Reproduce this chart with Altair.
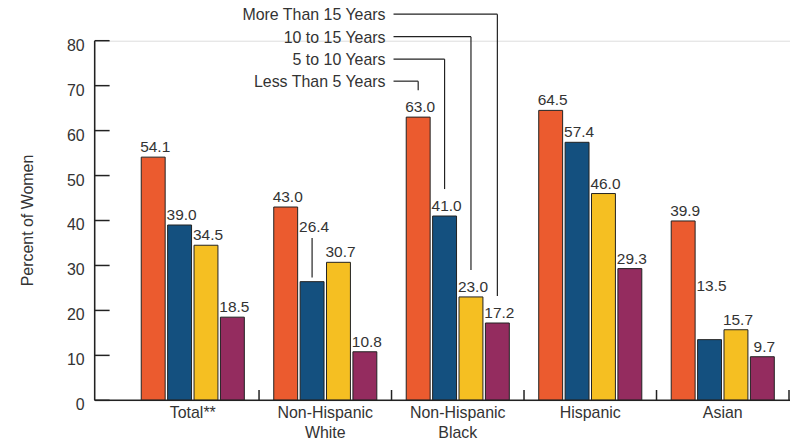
import altair as alt
import pandas as pd

categories = ["Total**", "Non-Hispanic|White", "Non-Hispanic|Black", "Hispanic", "Asian"]
series = ["Less Than 5 Years", "5 to 10 Years", "10 to 15 Years", "More Than 15 Years"]
less_than_5 = [54.1, 43.0, 63.0, 64.5, 39.9]
five_to_10 = [39.0, 26.4, 41.0, 57.4, 13.5]
ten_to_15 = [34.5, 30.7, 23.0, 46.0, 15.7]
more_than_15 = [18.5, 10.8, 17.2, 29.3, 9.7]
colors = ["#EB5B2F", "#14507F", "#F5BF22", "#942C5F"]
y_ticks = [0, 10, 20, 30, 40, 50, 60, 70, 80]
y_title = "Percent of Women"

# labels that sit higher than their bar: (category, series, label height in y units, leader line)
raised_labels = [("Non-Hispanic|White", "5 to 10 Years", 36.4, True),
                 ("Asian", "5 to 10 Years", 23.3, False)]
# legend rows drawn above the plot with leader lines to the Non-Hispanic Black bars
legend_category = "Non-Hispanic|Black"
legend_levels = [71, 75.9, 80.9, 85.9]

TXT = "#333333"
LINE = "#222222"
FS = 16
NUM_FS = 15.5

all_vals = [less_than_5, five_to_10, ten_to_15, more_than_15]
rows = []
for s, vals in zip(series, all_vals):
    for c, v in zip(categories, vals):
        ly = v
        lead = False
        for rc, rs, rly, rl in raised_labels:
            if rc == c and rs == s:
                ly = rly
                lead = rl
        rows.append({"category": c, "series": s, "value": v, "label_y": ly,
                     "lead": lead, "lead_lo": v + 0.9, "lead_hi": ly - 0.3})
df = pd.DataFrame(rows)

leg_rows = []
for s, lvl in zip(series, legend_levels):
    v = all_vals[series.index(s)][categories.index(legend_category)]
    leg_rows.append({"category": legend_category, "series": s, "level": lvl, "end": v + 6})
leg_df = pd.DataFrame(leg_rows)

cat_df = pd.DataFrame({"category": categories, "lo": [0] * len(categories),
                       "hi": [2.3] * len(categories)})
tick_df = pd.DataFrame({"tick": y_ticks})
base_df = pd.DataFrame({"z": [0], "top": [80], "mid": [40], "title": [y_title]})

x_scale = alt.Scale(domain=categories, range=[32, 697], paddingInner=0, paddingOuter=0)
x_axis = alt.Axis(domain=False, ticks=False, labelExpr="split(datum.label, '|')",
                  labelFontSize=FS, labelPadding=4, labelColor=TXT, labelLineHeight=20,
                  labelAngle=0, title=None)
y_scale = alt.Scale(domain=[0, 80], nice=False, zero=True)
xo = alt.XOffset("series:N", sort=series,
                 scale=alt.Scale(domain=series, paddingInner=0.094, paddingOuter=0.557))


def X(**kw):
    return alt.X("category:N", sort=categories, scale=x_scale, axis=x_axis, title=None, **kw)


def Yn(field):
    return alt.Y(field, scale=y_scale, axis=None)


bars = alt.Chart(df).mark_bar(stroke=LINE, strokeWidth=1).encode(
    x=X(),
    xOffset=xo,
    y=Yn("value:Q"),
    color=alt.Color("series:N", scale=alt.Scale(domain=series, range=colors), legend=None),
)

labels = alt.Chart(df).mark_text(dy=-5, dx=2, baseline="alphabetic", align="center",
                                 fontSize=NUM_FS, color=TXT).encode(
    x=X(), xOffset=xo,
    y=Yn("label_y:Q"),
    text=alt.Text("value:Q", format=".1f"),
)

leaders = alt.Chart(df).transform_filter("datum.lead").mark_rule(color=LINE, strokeWidth=1.2).encode(
    x=X(), xOffset=xo,
    y=Yn("lead_lo:Q"),
    y2="lead_hi:Q",
)

leg_text = alt.Chart(leg_df).mark_text(align="right", baseline="middle", fontSize=FS,
                                       dy=1, color=TXT).encode(
    x=alt.value(292),
    y=Yn("level:Q"),
    text="series:N",
)

leg_h = alt.Chart(leg_df).mark_rule(color=LINE, strokeWidth=1.2).encode(
    x=X(), xOffset=xo, x2=alt.value(300),
    y=Yn("level:Q"),
)

leg_v = alt.Chart(leg_df).mark_rule(color=LINE, strokeWidth=1.2).encode(
    x=X(), xOffset=xo,
    y=Yn("level:Q"),
    y2="end:Q",
)

x_line = alt.Chart(base_df).mark_rule(color=LINE, strokeWidth=1.5).encode(
    x=alt.value(0), x2=alt.value(698),
    y=Yn("z:Q"),
)

y_line = alt.Chart(base_df).mark_rule(color=LINE, strokeWidth=1.5).encode(
    x=alt.value(0),
    y=Yn("z:Q"), y2="top:Q",
)

y_title_mark = alt.Chart(base_df).mark_text(angle=270, align="center", baseline="middle",
                                            fontSize=FS, color=TXT).encode(
    x=alt.value(-67),
    y=Yn("mid:Q"),
    text="title:N",
)

seps = alt.Chart(cat_df).mark_rule(color=LINE, strokeWidth=1.5).encode(
    x=X(bandPosition=1),
    y=Yn("lo:Q"), y2="hi:Q",
)

yticks = alt.Chart(tick_df).mark_rule(color=LINE, strokeWidth=1.5).encode(
    x=alt.value(0), x2=alt.value(15),
    y=Yn("tick:Q"),
)

ytick_labels = alt.Chart(tick_df).mark_text(align="right", baseline="middle", dy=5,
                                            fontSize=FS, color=TXT).encode(
    x=alt.value(-10),
    y=Yn("tick:Q"),
    text=alt.Text("tick:Q", format="d"),
)

chart = alt.layer(bars, labels, leaders, leg_h, leg_v, leg_text, x_line, y_line, seps,
                  yticks, ytick_labels, y_title_mark).properties(
    width=698, height=361,
    autosize=alt.AutoSizeParams(type="none"),
    padding={"left": 87, "top": 32, "right": 0, "bottom": 40},
).configure_view(stroke=None).configure(font="Liberation Sans")

chart.save("out.html", embed_options={"renderer": "svg", "actions": False})
